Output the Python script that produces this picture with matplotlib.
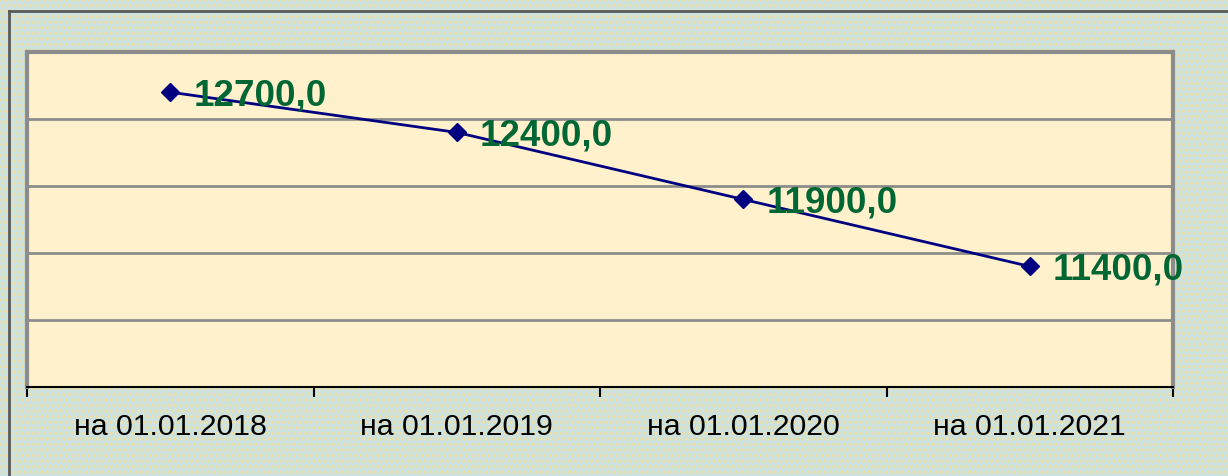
import matplotlib
matplotlib.use("Agg")
import matplotlib.pyplot as plt
from matplotlib.patches import Rectangle
from matplotlib.lines import Line2D

categories = ["на 01.01.2018", "на 01.01.2019", "на 01.01.2020", "на 01.01.2021"]
values = [12700.0, 12400.0, 11900.0, 11400.0]
value_labels = ["12700,0", "12400,0", "11900,0", "11400,0"]

plt.rcParams['font.family'] = ['Liberation Sans', 'DejaVu Sans']
plt.rcParams['hatch.color'] = '#EEDFA4'
plt.rcParams['hatch.linewidth'] = 1.5

fig = plt.figure(figsize=(12.28, 4.76), dpi=100)
fig.patch.set_facecolor('#CCE2E0')
bg = Rectangle((0, 0), 1, 1, transform=fig.transFigure, facecolor='#CCE2E0',
               edgecolor='#EEDFA4', hatch='...', linewidth=0, zorder=-10)
fig.patches.append(bg)

# outer chart frame (top and left edges visible)
fig.add_artist(Line2D([9/1228, 1.0], [1 - 11/476, 1 - 11/476], transform=fig.transFigure,
                      color='#5A5A5A', linewidth=2))
fig.add_artist(Line2D([9/1228, 9/1228], [0, 1 - 11/476], transform=fig.transFigure,
                      color='#5A5A5A', linewidth=2))

ax = fig.add_axes([27/1228, 1 - 387/476, (1173 - 27)/1228, (387 - 52)/476])
ax.set_facecolor('#FFF1CC')

x = list(range(len(categories)))
ax.plot(x, values, color='#000080', linewidth=2, marker='D', markersize=9.5,
        markerfacecolor='#000080', markeredgecolor='#000080', zorder=3)

for xi, v, lab in zip(x, values, value_labels):
    ax.annotate(lab, (xi, v), xytext=(16.5, -9.5), textcoords='offset points',
                ha='left', va='baseline', fontsize=26.5, fontweight='bold',
                color='#006633', zorder=4, annotation_clip=False)

ax.set_xlim(-0.5, len(categories) - 0.5)
ax.set_ylim(10500, 13000)
ax.set_yticks([10500, 11000, 11500, 12000, 12500, 13000])
ax.yaxis.grid(True, color='#8C8C8C', linewidth=2)
ax.set_axisbelow(True)
ax.tick_params(axis='y', left=False, labelleft=False)

ax.set_xticks(x)
ax.set_xticklabels(categories, fontsize=21.8, color='black')
ax.set_xticks([i - 0.5 for i in range(len(categories) + 1)], minor=True)
ax.tick_params(axis='x', which='major', length=0, pad=19)
ax.tick_params(axis='x', which='minor', length=7, width=1.5, color='black', direction='out')

for side in ['left', 'top', 'right']:
    ax.spines[side].set_color('#8C8C8C')
    ax.spines[side].set_linewidth(3)
ax.spines['bottom'].set_color('black')
ax.spines['bottom'].set_linewidth(1.5)

fig.savefig('out.png', dpi=100, facecolor=fig.get_facecolor())
